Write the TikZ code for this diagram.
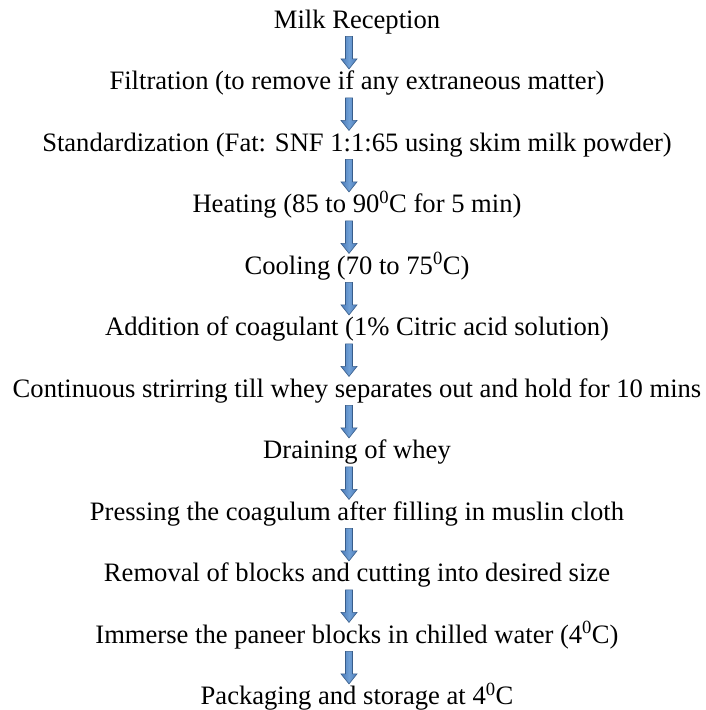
\documentclass[tikz,border=0pt]{standalone}
\usepackage{fontspec}
\setmainfont{Liberation Serif}
\usepackage{xcolor}
\usetikzlibrary{calc, math}

\definecolor{arrowblue}{RGB}{74,122,184}
\definecolor{arrowlight}{RGB}{112,160,214}
\definecolor{arrowedge}{RGB}{56,93,138}

\tikzset{
 stepnode/.style={anchor=base, inner sep=0pt, text height=18.4pt, text depth=6.6pt,
   font=\fontsize{26.6}{30}\selectfont},
 blockarrow/.style={left color=arrowblue, right color=arrowblue, middle color=arrowlight,
   draw=arrowedge, line width=0.6pt,
   to path={let \p1=(\tikztostart), \p2=(\tikztotarget) in
     (\x1-3.5pt,\y1) -- (\x1+3.5pt,\y1) -- (\x1+3.5pt,\y2+10pt) -- (\x1+8pt,\y2+10pt)
     -- (\x1,\y2) -- (\x1-8pt,\y2+10pt) -- (\x1-3.5pt,\y2+10pt) -- cycle}}
}

\begin{document}
\begin{tikzpicture}[x=1pt, y=1pt]
\tikzmath{
\dy=61.5;
\xt=357;
\xa=349;
}
\useasboundingbox (0,0) rectangle (706,-710);
\coordinate (ax) at (\xa,0);

 %steps:
 \node[stepnode] (rec)   at (\xt,-28) {Milk Reception};
 \node[stepnode] (filt)  at (\xt,-28-\dy) {Filtration (to remove if any extraneous matter)};
 \node[stepnode] (std)   at (\xt,-28-2*\dy) {Standardization (Fat: SNF 1:1:65 using skim milk powder)};
 \node[stepnode] (heat)  at (\xt,-28-3*\dy) {Heating (85 to 90\textsuperscript{0}C for 5 min)};
 \node[stepnode] (cool)  at (\xt,-28-4*\dy) {Cooling (70 to 75\textsuperscript{0}C)};
 \node[stepnode] (coag)  at (\xt,-28-5*\dy) {Addition of coagulant (1\% Citric acid solution)};
 \node[stepnode] (stir)  at (\xt,-28-6*\dy) {Continuous strirring till whey separates out and hold for 10 mins};
 \node[stepnode] (drain) at (\xt,-28-7*\dy) {Draining of whey};
 \node[stepnode] (press) at (\xt,-28-8*\dy) {Pressing the coagulum after filling in muslin cloth};
 \node[stepnode] (cut)   at (\xt,-28-9*\dy) {Removal of blocks and cutting into desired size};
 \node[stepnode] (imm)   at (\xt,-28-10*\dy) {Immerse the paneer blocks in chilled water (4\textsuperscript{0}C)};
 \node[stepnode] (pack)  at (\xt,-28-11*\dy) {Packaging and storage at 4\textsuperscript{0}C};

 %arrows:
 \foreach \a/\b in {rec/filt, filt/std, std/heat, heat/cool, cool/coag, coag/stir,
                    stir/drain, drain/press, press/cut, cut/imm, imm/pack}
   \draw[blockarrow] ($(\a.south -| ax)+(0,-1.5)$) to ($(\b.north -| ax)+(0,2)$);
\end{tikzpicture}
\end{document}
